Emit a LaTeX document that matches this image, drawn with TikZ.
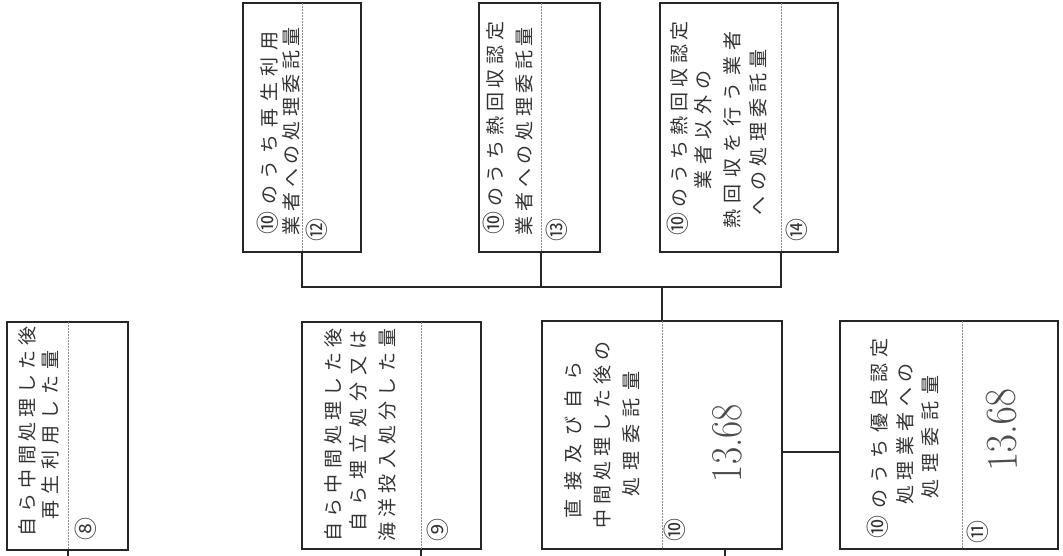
\documentclass[tikz,border=0pt]{standalone}
\usepackage{fontspec}
\newfontfamily\jp{Noto Sans CJK JP}
\makeatletter
\def\sprd#1#2{\hbox to #1{\sprd@#2\relax}}
\def\sprd@#1#2{#1\ifx\relax#2\expandafter\@gobble\else\hfill\expandafter\@firstofone\fi{\sprd@#2}}
\makeatother
\newcommand\cten{\mbox{\fontsize{23}{23}\selectfont ⑩}}
\tikzset{
  frame/.style={draw=black!85, line width=1.5pt, inner sep=0pt, outer sep=0pt, fill=none},
  divider/.style={draw=black!45, line width=0.5pt, dash pattern=on 2pt off 1pt},
  conn/.style={draw=black!85, line width=1.2pt},
  jt/.style={rotate=90, inner sep=0pt, text=black!80, font=\jp\fontsize{19}{19}\selectfont},
  num/.style={rotate=90, inner sep=0pt, text=black!80, font=\jp\fontsize{23}{23}\selectfont},
  hand/.style={rotate=90, inner sep=0pt, text=black!70, font=\fontsize{44}{44}\selectfont},
}
\begin{document}
\begin{tikzpicture}[x=1pt,y=-1pt]
\useasboundingbox (0,0) rectangle (1063,555);
% boxes
\node[frame, minimum width=121pt, minimum height=228pt] (b8) at (67.5,436) {};
\node[frame, minimum width=179pt, minimum height=227pt] (b9) at (391.5,435.5) {};
\node[frame, minimum width=240pt, minimum height=228pt] (b10) at (662,435) {};
\node[frame, minimum width=218pt, minimum height=228pt] (b11) at (949,435) {};
\node[frame, minimum width=118pt, minimum height=249pt] (b12) at (302,127.5) {};
\node[frame, minimum width=121pt, minimum height=249pt] (b13) at (539.5,127.5) {};
\node[frame, minimum width=178pt, minimum height=249pt] (b14) at (749,127.5) {};
% divider positions
\coordinate (v8) at (68,0);
\coordinate (v9) at (421,0);
\coordinate (v10) at (662,0);
\coordinate (v11) at (962,0);
\coordinate (v12) at (302,0);
\coordinate (v13) at (541,0);
\coordinate (v14) at (781,0);
\coordinate (w10) at (725,0);
\coordinate (bus) at (0,287);
\coordinate (bot) at (0,556);
\coordinate (side) at (0,452);
% dividers
\foreach \b/\v in {b8/v8,b9/v9,b10/v10,b11/v11,b12/v12,b13/v13,b14/v14}
  \draw[divider] (\b.north -| \v) -- (\b.south -| \v);
% connectors
\draw[conn] (b8.south -| v8) -- (v8 |- bot);
\draw[conn] (b9.south -| v9) -- (v9 |- bot);
\draw[conn] (b10.south -| w10) -- (w10 |- bot);
\draw[conn] (b12.south -| v12) -- (v12 |- bus) -- (v14 |- bus) -- (b14.south -| v14);
\draw[conn] (b13.south -| v13) -- (v13 |- bus);
\draw[conn] (v10 |- bus) -- (b10.north -| v10);
\draw[conn] (b10.east |- side) -- (b11.west |- side);
% box 8
\node[jt] (t8a) at (27,431.5) {\sprd{210pt}{自ら中間処理した後}};
\node[jt] (t8b) at (50,435) {\sprd{169pt}{再生利用した量}};
\node[num] (n8) at (86,529) {⑧};
% box 9
\node[jt] (t9a) at (333,435) {\sprd{213pt}{自ら中間処理した後}};
\node[jt] (t9b) at (358,431) {\sprd{201pt}{自ら埋立処分又は}};
\node[jt] (t9c) at (387,435) {\sprd{213pt}{海洋投入処分した量}};
\node[num] (n9) at (438,530) {⑨};
% box 10
\node[jt] (t10a) at (573,440) {\sprd{157pt}{直接及び自ら}};
\node[jt] (t10b) at (602,435) {\sprd{187pt}{中間処理した後の}};
\node[jt] (t10c) at (631,434) {\sprd{125pt}{処理委託量}};
\node[num] (n10) at (675,530) {⑩};
\node[hand] (h10) at (727,443) {\scalebox{0.85}[1]{13.68}};
% box 11
\node[jt] (t11a) at (878,438) {\sprd{200pt}{\cten のうち優良認定}};
\node[jt] (t11b) at (905,434) {\sprd{141pt}{処理業者への}};
\node[jt] (t11c) at (930,437) {\sprd{123pt}{処理委託量}};
\node[num] (n11) at (978,532) {⑪};
\node[hand, rotate=2] (h11) at (1002,430) {\scalebox{0.9}[1]{13.68}};
% box 12
\node[jt] (t12a) at (268,133) {\sprd{203pt}{\cten のうち再生利用}};
\node[jt] (t12b) at (291,131) {\sprd{208pt}{業者への処理委託量}};
\node[num] (n12) at (317,230) {⑫};
% box 13
\node[jt] (t13a) at (494,128) {\sprd{213pt}{\cten のうち熱回収認定}};
\node[jt] (t13b) at (524,131) {\sprd{208pt}{業者への処理委託量}};
\node[num] (n13) at (557,230) {⑬};
% box 14
\node[jt] (t14a) at (678,128) {\sprd{214pt}{\cten のうち熱回収認定}};
\node[jt] (t14b) at (703,130) {\sprd{119pt}{業者以外の}};
\node[jt] (t14c) at (732,130) {\sprd{197pt}{熱回収を行う業者}};
\node[jt] (t14d) at (758,132) {\sprd{166pt}{への処理委託量}};
\node[num] (n14) at (797,230) {⑭};
\end{tikzpicture}
\end{document}
